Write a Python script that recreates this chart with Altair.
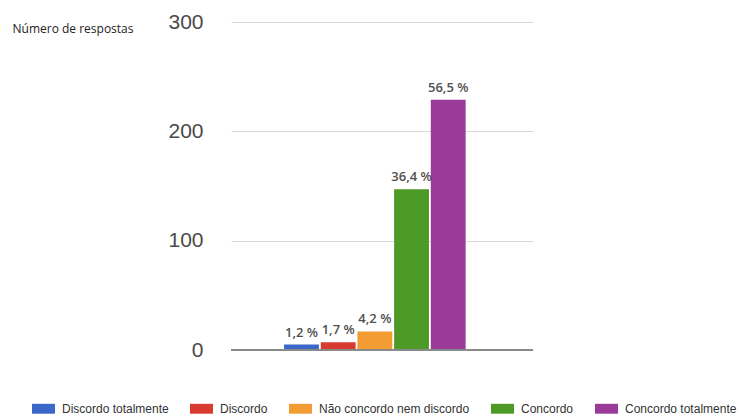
import altair as alt
import pandas as pd

# Survey answers (one group, five answer options)
respostas = [
    "Discordo totalmente",
    "Discordo",
    "Não concordo nem discordo",
    "Concordo",
    "Concordo totalmente",
]
contagens = [5, 7, 17, 147, 229]
percentuais = ["1,2 %", "1,7 %", "4,2 %", "36,4 %", "56,5 %"]
cores = ["#3a67c8", "#d93a2f", "#f39c33", "#4e9a26", "#9a3b9a"]

df = pd.DataFrame({
    "grupo": ["Respostas"] * len(respostas),
    "resposta": respostas,
    "n": contagens,
    "rotulo": percentuais,
})

x_enc = alt.X("grupo:N", axis=None,
              scale=alt.Scale(paddingInner=0, paddingOuter=0.325, align=0.44))
off_enc = alt.XOffset("resposta:N", sort=respostas,
                      scale=alt.Scale(paddingInner=0.05, paddingOuter=0.02))
y_enc = alt.Y(
    "n:Q",
    scale=alt.Scale(domain=[0, 300], nice=False),
    axis=alt.Axis(
        values=[0, 100, 200, 300],
        grid=True, gridColor="#d9d9d9", gridWidth=1.2,
        ticks=False, domain=False,
        labelFont="Liberation Sans", labelFontSize=21, labelColor="#4a4a4a",
        labelPadding=28,
        title="Número de respostas", titleAngle=0, titleAlign="left",
        titleBaseline="alphabetic", titleX=-219, titleY=10,
        titleFont="Open Sans", titleFontSize=12, titleFontWeight=500,
        titleColor="#222222",
    ),
)

bars = alt.Chart(df).mark_bar().encode(
    x=x_enc,
    xOffset=off_enc,
    y=y_enc,
    color=alt.Color(
        "resposta:N",
        scale=alt.Scale(domain=respostas, range=cores),
        legend=alt.Legend(
            title=None, orient="none", direction="horizontal",
            legendX=-199, legendY=375,
            symbolType="M-1,-0.43H1V0.43H-1Z", symbolSize=529,
            symbolStrokeWidth=0, symbolOpacity=1,
            labelFont="Liberation Sans", labelFontSize=12, labelColor="#333333",
            labelOffset=7, columnPadding=21, labelLimit=300,
        ),
    ),
)

labels = alt.Chart(df).mark_text(
    dy=-8, baseline="alphabetic", font="Open Sans", fontSize=13,
    fontWeight=600, color="#505050",
).encode(
    x=x_enc,
    xOffset=off_enc,
    y="n:Q",
    text="rotulo:N",
)

baseline = alt.Chart(pd.DataFrame({"y": [0]})).mark_rule(
    color="#8a8a8a", strokeWidth=2
).encode(y="y:Q")

chart = alt.layer(bars, baseline, labels).properties(
    width=302, height=328,
    autosize=alt.AutoSizeParams(type="none"),
    padding={"left": 231, "top": 22, "right": 206, "bottom": 66},
    background="white",
).configure_view(stroke=None)

chart.save("out.html", embed_options={"renderer": "svg", "actions": False})
